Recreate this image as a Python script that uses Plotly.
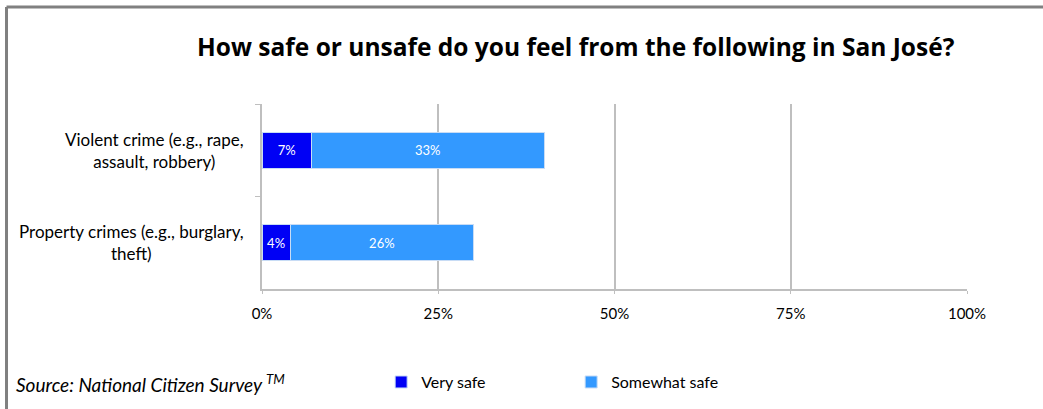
import plotly.graph_objects as go

categories = ["Violent crime (e.g., rape,<br>assault, robbery)",
              "Property crimes (e.g., burglary,<br>theft)"]
very_safe = [7, 4]
somewhat_safe = [33, 26]
series_names = ["Very safe", "Somewhat safe"]
colors = ["#0000F5", "#3399FF"]
x_ticks = [0, 25, 50, 75, 100]
x_tick_labels = ["0%", "25%", "50%", "75%", "100%"]

FONT = "Lato"

fig = go.Figure()
for name, vals, col in zip(series_names, [very_safe, somewhat_safe], colors):
    fig.add_trace(go.Bar(
        y=categories, x=vals, name=name, orientation="h",
        marker=dict(color=col, line=dict(color="#C8DCF5", width=1)),
        width=0.39,
        text=[f"{v}%" for v in vals], textposition="inside",
        insidetextanchor="middle",
        textfont=dict(color="white", size=13, family=FONT),
    ))

# category labels as centered annotations
for c in categories:
    fig.add_annotation(x=-0.023, xref="paper", y=c, yref="y", text=c,
                       showarrow=False, xanchor="right", align="center",
                       font=dict(size=17, color="#000000", family=FONT))

fig.add_annotation(x=-0.352, xref="paper", y=-0.51, yref="paper",
                   text="<i>Source: National Citizen Survey <sup>TM</sup></i>",
                   showarrow=False, xanchor="left", yanchor="middle",
                   font=dict(size=19, color="#000000", family=FONT))

# outer frame (top and left gray lines)
fig.add_shape(type="line", xref="paper", yref="paper",
              x0=-0.3624, x1=1.2, y0=1.524, y1=1.524,
              line=dict(color="#808080", width=3))
fig.add_shape(type="line", xref="paper", yref="paper",
              x0=-0.3624, x1=-0.3624, y0=1.524, y1=-0.7,
              line=dict(color="#808080", width=3))

fig.update_layout(
    width=1043, height=409,
    margin=dict(l=262, r=76, t=104, b=119),
    barmode="stack",
    plot_bgcolor="white", paper_bgcolor="white",
    font=dict(family=FONT, color="#000000"),
    title=dict(text="<b>How safe or unsafe do you feel from the following in San José?</b>",
               x=0.552, xanchor="center", y=0.883, yanchor="middle",
               font=dict(size=24.5, color="#000000", family="Open Sans")),
    xaxis=dict(range=[0, 100], tickvals=x_ticks, ticktext=x_tick_labels,
               showgrid=True, gridcolor="#BFBFBF", gridwidth=2,
               showline=True, linecolor="#BFBFBF", linewidth=2,
               ticks="outside", ticklen=3, tickcolor="#BFBFBF",
               ticklabelstandoff=7,
               tickfont=dict(size=15, family=FONT), zeroline=False,
               fixedrange=True),
    yaxis=dict(autorange="reversed", showticklabels=False,
               showline=True, linecolor="#BFBFBF", linewidth=2,
               ticks="outside", ticklen=5, tickcolor="#BFBFBF",
               tickson="boundaries", showgrid=False),
    legend=dict(orientation="h", x=0.169, y=-0.495, xanchor="left",
                yanchor="middle", entrywidth=145, entrywidthmode="pixels",
                font=dict(size=16, family=FONT), itemwidth=30,
                traceorder="normal"),
    showlegend=True,
)

fig.write_html("out.html")
